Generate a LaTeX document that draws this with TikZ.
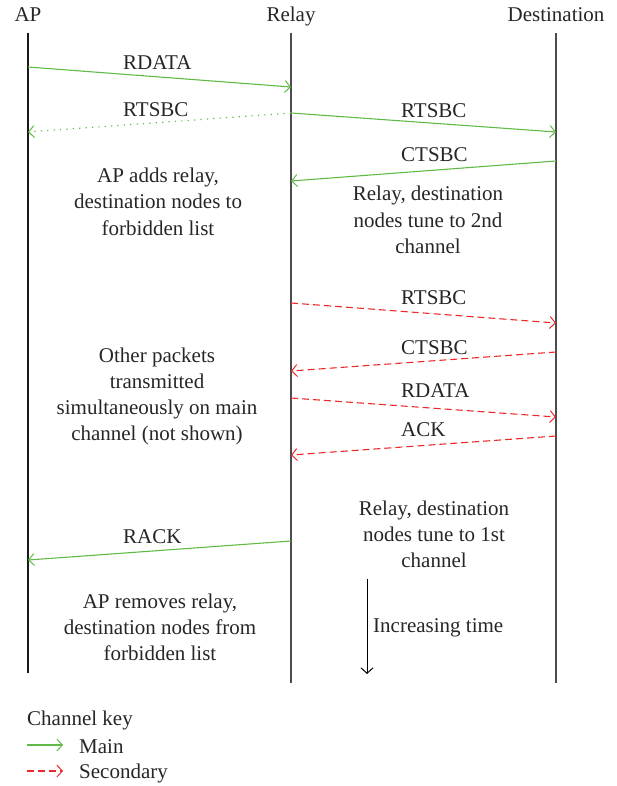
\documentclass[tikz,border=0pt]{standalone}
\usepackage{fontspec}
\setmainfont{Liberation Serif}
\usetikzlibrary{arrows.meta}
\definecolor{mainc}{RGB}{96,186,70}
\definecolor{secc}{RGB}{238,40,40}
\begin{document}
\begin{tikzpicture}[x=1pt,y=-1pt,
  font=\fontsize{21}{26}\selectfont,
  life/.style={line width=1.5pt, draw=black!70},
  lifeap/.style={line width=1.1pt, draw=black!90},
  barb/.style={-{Straight Barb[length=5.5pt,width=12pt,line width=1pt]}},
  mainarrow/.style={draw=mainc, line width=1.1pt, barb},
  secarrow/.style={draw=secc, line width=1.1pt, dash pattern=on 7pt off 4pt, barb},
  dotarrow/.style={draw=mainc, line width=1.2pt, dash pattern=on 1.2pt off 5.2pt, barb},
  timearrow/.style={draw=black, line width=0.9pt, barb},
  msg/.style={anchor=base west, inner sep=0pt, text=black!85},
  note/.style={align=center, anchor=base, inner sep=0pt, text=black!85},
  head/.style={anchor=base, inner sep=0pt, text=black!85}]
\useasboundingbox (0,0) rectangle (617,786);

% headers
\node[head] (hap) at (28,22) {AP};
\node[head] (hrelay) at (291,22) {Relay};
\node[head] (hdest) at (556,22) {Destination};

% lifelines
\coordinate (apT) at (28,33);   \coordinate (apB) at (28,673);
\coordinate (reT) at (291,33);  \coordinate (reB) at (291,683);
\coordinate (deT) at (556,33);  \coordinate (deB) at (556,683);
\draw[lifeap] (apT) -- (apB);
\draw[life] (reT) -- (reB);
\draw[life] (deT) -- (deB);

% message end points
\coordinate (a1s) at (28,67);   \coordinate (a1e) at (291,87);
\coordinate (a2s) at (291,113); \coordinate (a2e) at (28,132);
\coordinate (a3e) at (556,132);
\coordinate (a4s) at (556,161); \coordinate (a4e) at (291,181);
\coordinate (a5s) at (291,303); \coordinate (a5e) at (556,323);
\coordinate (a6s) at (556,352); \coordinate (a6e) at (291,371);
\coordinate (a7s) at (291,398); \coordinate (a7e) at (556,417);
\coordinate (a8s) at (556,436); \coordinate (a8e) at (291,455);
\coordinate (a9s) at (291,541); \coordinate (a9e) at (28,560);

\draw[mainarrow] (a1s) -- (a1e);
\draw[dotarrow]  (a2s) -- (a2e);
\draw[mainarrow] (a2s) -- (a3e);
\draw[mainarrow] (a4s) -- (a4e);
\draw[secarrow]  (a5s) -- (a5e);
\draw[secarrow]  (a6s) -- (a6e);
\draw[secarrow]  (a7s) -- (a7e);
\draw[secarrow]  (a8s) -- (a8e);
\draw[mainarrow] (a9s) -- (a9e);

% message labels
\node[msg] (l1) at (123,70)  {RDATA};
\node[msg] (l2) at (123,117) {RTSBC};
\node[msg] (l3) at (401,118) {RTSBC};
\node[msg] (l4) at (401,162) {CTSBC};
\node[msg] (l5) at (401,304) {RTSBC};
\node[msg] (l6) at (401,354) {CTSBC};
\node[msg] (l7) at (401,397) {RDATA};
\node[msg] (l8) at (401,436) {ACK};
\node[msg] (l9) at (123,543) {RACK};

% notes (base anchor = baseline of last line)
\node[note] (n1) at (158,235) {AP adds relay,\\destination nodes to\\forbidden list};
\node[note] (n2) at (428,253) {Relay, destination\\nodes tune to 2nd\\channel};
\node[note] (n3) at (157,440) {Other packets\\transmitted\\simultaneously on main\\channel (not shown)};
\node[note] (n4) at (434,567) {Relay, destination\\nodes tune to 1st\\channel};
\node[note] (n5) at (160,660) {AP removes relay,\\destination nodes from\\forbidden list};

% time arrow
\coordinate (ts) at (367,579); \coordinate (te) at (367,674);
\draw[timearrow] (ts) -- (te);
\node[msg] (tl) at (373,632) {Increasing time};

% legend
\node[msg] (key) at (27,725) {Channel key};
\coordinate (k1s) at (27,745); \coordinate (k1e) at (63,745);
\coordinate (k2s) at (27,771); \coordinate (k2e) at (63,771);
\draw[mainarrow] (k1s) -- (k1e);
\draw[secarrow]  (k2s) -- (k2e);
\node[msg] (kmain) at (79,753) {Main};
\node[msg] (ksec) at (79,778) {Secondary};
\end{tikzpicture}
\end{document}
